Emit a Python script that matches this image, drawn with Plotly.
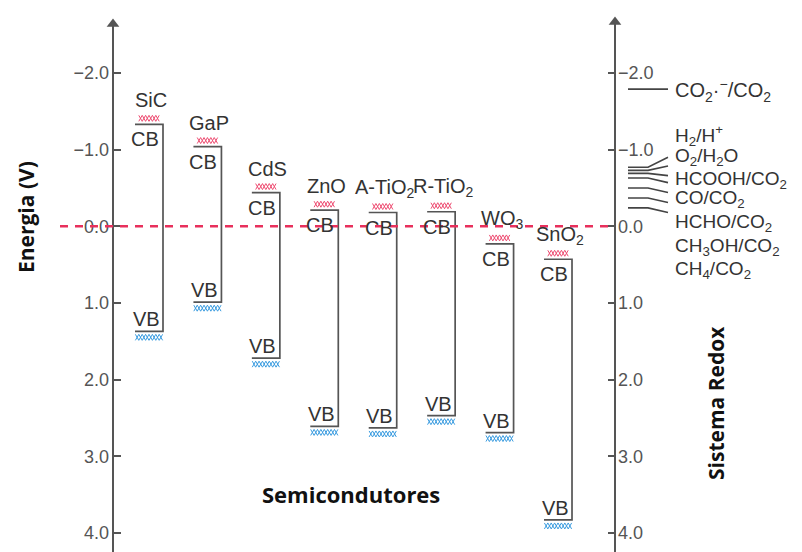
import plotly.graph_objects as go

# Band edges of the semiconductors (V vs NHE)
materials = ["SiC", "GaP", "CdS", "ZnO", "A-TiO<sub>2</sub>", "R-TiO<sub>2</sub>",
             "WO<sub>3</sub>", "SnO<sub>2</sub>"]
cb_edge = [-1.33, -1.04, -0.44, -0.21, -0.18, -0.19, 0.23, 0.43]
vb_edge = [1.37, 0.99, 1.72, 2.61, 2.63, 2.47, 2.69, 3.83]

# Redox couples of CO2 reduction (V vs NHE)
radical_couple = "CO<sub>2</sub>·<sup>−</sup>/CO<sub>2</sub>"
radical_potential = -1.79
redox_couples = ["H<sub>2</sub>/H<sup>+</sup>", "O<sub>2</sub>/H<sub>2</sub>O",
                 "HCOOH/CO<sub>2</sub>", "CO/CO<sub>2</sub>", "HCHO/CO<sub>2</sub>",
                 "CH<sub>3</sub>OH/CO<sub>2</sub>", "CH<sub>4</sub>/CO<sub>2</sub>"]
redox_potential = [-0.77, -0.73, -0.69, -0.63, -0.50, -0.37, -0.24]

tick_values = [-2, -1, 0, 1, 2, 3, 4]
tick_text = ["−2.0", "−1.0", "0.0", "1.0", "2.0", "3.0", "4.0"]

# ---- page geometry -------------------------------------------------------
W, H = 802, 552
PX_PER_V = 76.67          # vertical scale
ZERO_PX = 226.3           # row of 0.0 V
SLOT_PX = 58.43           # spacing between semiconductors
FIRST_PX = 149.0          # column of the first semiconductor
LEFT_AXIS_PX, RIGHT_AXIS_PX = 113, 615

y_top = -ZERO_PX / PX_PER_V
y_bot = (H - ZERO_PX) / PX_PER_V
x_lo = -FIRST_PX / SLOT_PX
x_hi = (W - FIRST_PX) / SLOT_PX


def col(px):
    return (px - FIRST_PX) / SLOT_PX


def row(px):
    return (px - ZERO_PX) / PX_PER_V


def dv(px):
    return px / PX_PER_V


def dx(px):
    return px / SLOT_PX


GRAY = "#555555"
TEXT = "#333333"
RED = "#e8305c"
HATCH_RED = "#ee4d72"
HATCH_BLUE = "#3a9ce0"
SANS = "Liberation Sans"
BOLD = "Open Sans"

positions = list(range(len(materials)))
half = dx(14)


def zigzag_band(centres, edges, near_px, far_px, width_px, step_px=3.4):
    """Chain of small crosses ("xxxx") next to each band edge."""
    xs, ys = [], []
    n = int(round(width_px / step_px))
    for c, e in zip(centres, edges):
        y_near, y_far = e + dv(near_px), e + dv(far_px)
        left = c - dx(n * step_px / 2)
        for phase in (0, 1):
            for k in range(n + 1):
                xs.append(left + dx(k * step_px))
                ys.append(y_near if (k + phase) % 2 == 0 else y_far)
            xs.append(None)
            ys.append(None)
    return xs, ys


fig = go.Figure()

# hatched band edges (CB above the edge, VB below it)
hx, hy = zigzag_band(positions, cb_edge, -3, -9, 22)
fig.add_trace(go.Scatter(x=hx, y=hy, mode="lines", line=dict(color=HATCH_RED, width=1),
                         hoverinfo="skip", showlegend=False))
hx, hy = zigzag_band(positions, vb_edge, 3, 9, 26)
fig.add_trace(go.Scatter(x=hx, y=hy, mode="lines", line=dict(color=HATCH_BLUE, width=1),
                         hoverinfo="skip", showlegend=False))

# band gap brackets
for i, (cb, vb) in enumerate(zip(cb_edge, vb_edge)):
    fig.add_trace(go.Scatter(
        x=[i - half, i + half, i + half, i - half], y=[cb, cb, vb, vb],
        mode="lines", line=dict(color=GRAY, width=1.7),
        hoverinfo="skip", showlegend=False,
    ))

# redox levels on the right scale
fig.add_trace(go.Scatter(
    x=[col(628), col(668)], y=[radical_potential, radical_potential],
    mode="lines", line=dict(color="#444444", width=1.7),
    yaxis="y2", hoverinfo="skip", showlegend=False,
))
label_rows_px = [135, 157, 180, 199, 223, 247, 270]
for v, lr in zip(redox_potential, label_rows_px):
    target = row(lr)
    bend = max(-0.13, min(0.06, 0.33 * (target - v)))
    fig.add_trace(go.Scatter(
        x=[col(628), col(648), col(668)], y=[v, v, v + bend],
        mode="lines", line=dict(color="#444444", width=1.6),
        yaxis="y2", hoverinfo="skip", showlegend=False,
    ))

# axis arrowheads
fig.add_trace(go.Scatter(
    x=[col(LEFT_AXIS_PX), col(RIGHT_AXIS_PX)], y=[row(24), row(22)],
    mode="markers", marker=dict(symbol="triangle-up", size=11, color=GRAY),
    hoverinfo="skip", showlegend=False,
))

shapes = [
    dict(type="line", xref="x", yref="y", x0=col(LEFT_AXIS_PX), x1=col(LEFT_AXIS_PX),
         y0=y_bot, y1=row(26), line=dict(color=GRAY, width=2)),
    dict(type="line", xref="x", yref="y", x0=col(RIGHT_AXIS_PX), x1=col(RIGHT_AXIS_PX),
         y0=y_bot, y1=row(24), line=dict(color=GRAY, width=2)),
    dict(type="line", xref="x", yref="y", x0=col(60), x1=col(RIGHT_AXIS_PX), y0=0, y1=0,
         line=dict(color=RED, width=2.5, dash="8px,7px")),
]

ann = []
for i, (name, cb, vb) in enumerate(zip(materials, cb_edge, vb_edge)):
    ann.append(dict(x=i, y=cb, xref="x", yref="y", text=name, showarrow=False,
                    xshift=2, yshift=24, yanchor="middle",
                    font=dict(family=SANS, size=20, color=TEXT)))
    ann.append(dict(x=i, y=cb, xref="x", yref="y", text="CB", showarrow=False,
                    xshift=-4, yshift=-15, yanchor="middle",
                    font=dict(family=SANS, size=20, color=TEXT)))
    ann.append(dict(x=i, y=vb, xref="x", yref="y", text="VB", showarrow=False,
                    xshift=-3, yshift=12, yanchor="middle",
                    font=dict(family=SANS, size=20, color=TEXT)))

ann.append(dict(x=col(673), y=row(90), xref="x", yref="y", text=radical_couple,
                showarrow=False, xanchor="left", yanchor="middle",
                font=dict(family=SANS, size=20, color=TEXT)))
for name, lr in zip(redox_couples, label_rows_px):
    ann.append(dict(x=col(673), y=row(lr), xref="x", yref="y", text=name,
                    showarrow=False, xanchor="left", yanchor="middle",
                    font=dict(family=SANS, size=19, color=TEXT)))

ann.append(dict(x=26 / W, y=1 - 217 / H, xref="paper", yref="paper", text="<b>Energia (V)</b>",
                textangle=-90, showarrow=False, xanchor="center", yanchor="middle",
                font=dict(family=BOLD, size=21, color="#111111")))
ann.append(dict(x=351 / W, y=1 - 494 / H, xref="paper", yref="paper", text="<b>Semicondutores</b>",
                showarrow=False, xanchor="center", yanchor="middle",
                font=dict(family=BOLD, size=22, color="#111111")))
ann.append(dict(x=716 / W, y=1 - 403 / H, xref="paper", yref="paper", text="<b>Sistema Redox</b>",
                textangle=-90, showarrow=False, xanchor="center", yanchor="middle",
                font=dict(family=BOLD, size=21, color="#111111")))

axis_common = dict(
    range=[y_bot, y_top], tickvals=tick_values, ticktext=tick_text,
    ticks="inside", ticklen=7, tickwidth=2, tickcolor=GRAY,
    showline=False, showgrid=False, zeroline=False, anchor="free",
    tickfont=dict(family=SANS, size=18, color="#555555"),
)

fig.update_layout(
    width=W, height=H, margin=dict(l=0, r=0, t=0, b=0),
    paper_bgcolor="white", plot_bgcolor="white",
    showlegend=False,
    xaxis=dict(range=[x_lo, x_hi], visible=False, domain=[0, 1]),
    yaxis=dict(position=LEFT_AXIS_PX / W, side="left", ticklabelstandoff=4, **axis_common),
    yaxis2=dict(position=RIGHT_AXIS_PX / W, side="right", overlaying="y",
                ticklabelstandoff=2, **axis_common),
    shapes=shapes, annotations=ann,
)

fig.write_html("out.html")
